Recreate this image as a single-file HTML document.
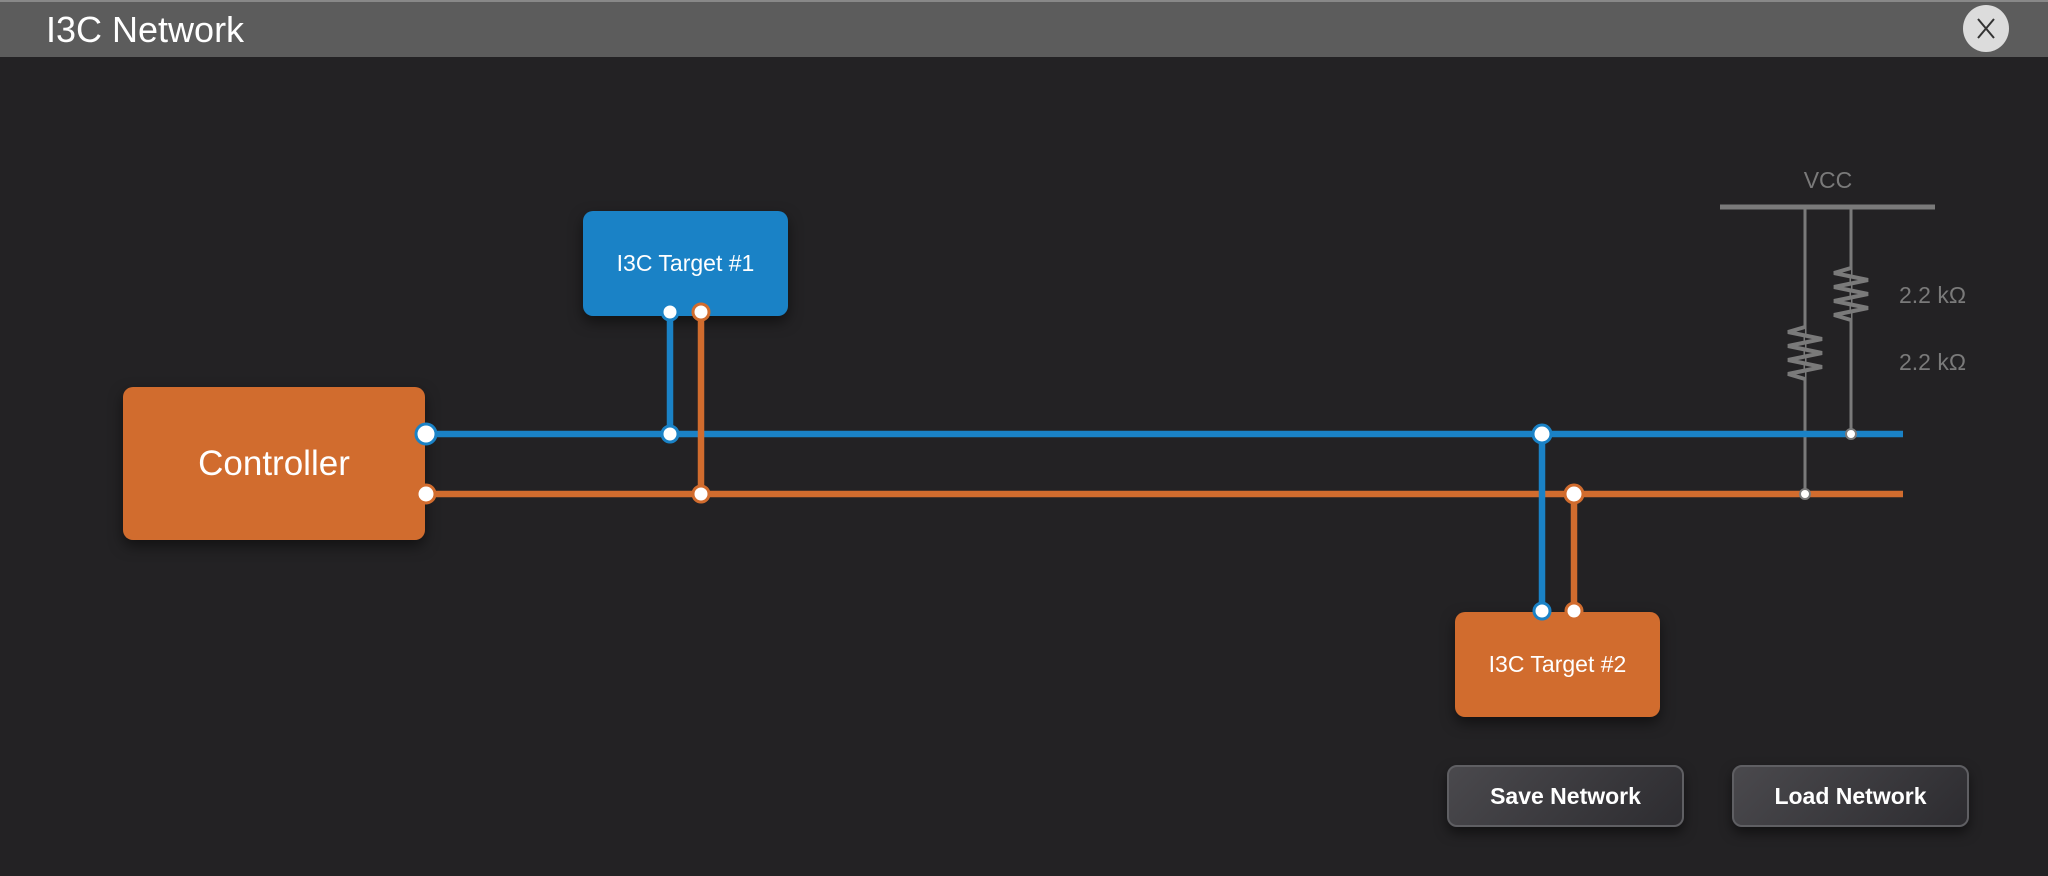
<!DOCTYPE html>
<html><head><meta charset="utf-8"><style>
html,body{margin:0;padding:0;width:2048px;height:876px;overflow:hidden;background:#232224;font-family:"Liberation Sans",sans-serif}
.hdr{position:absolute;left:0;top:0;width:2048px;height:57px;background:#5c5c5c;border-top:2px solid #888;box-sizing:border-box}
.title{position:absolute;left:46px;top:7px;font-size:36px;color:#fff}
.close{position:absolute;left:1963px;top:5px;width:46px;height:47px;border-radius:50%;background:#dcdcdc}
.box{position:absolute;border-radius:10px;color:#fff;display:flex;align-items:center;justify-content:center;box-shadow:0 6px 14px rgba(0,0,0,.5)}
.btn{position:absolute;width:237px;height:62px;border-radius:10px;border:2px solid #5f5f63;box-sizing:border-box;background:linear-gradient(135deg,#4a494d,#2d2c30);color:#fff;font-weight:bold;font-size:23px;display:flex;align-items:center;justify-content:center;box-shadow:0 6px 12px rgba(0,0,0,.5)}
</style></head><body>
<div class="hdr"><div class="title">I3C Network</div></div>
<div class="close"><svg width="46" height="47"><line x1="15" y1="14" x2="31" y2="33" stroke="#333" stroke-width="2"/><line x1="31" y1="14" x2="15" y2="33" stroke="#333" stroke-width="2"/></svg></div>
<div class="box" style="left:123px;top:387px;width:302px;height:153px;background:#d16c2e;font-size:35px">Controller</div>
<div class="box" style="left:583px;top:211px;width:205px;height:105px;background:#1a82c6;font-size:23px">I3C Target #1</div>
<div class="box" style="left:1455px;top:612px;width:205px;height:105px;background:#d16c2e;font-size:23px">I3C Target #2</div>
<svg width="2048" height="876" style="position:absolute;left:0;top:0">
<g stroke="#7a7a7a" fill="none">
<line x1="1720" y1="207" x2="1935" y2="207" stroke-width="5"/>
<line x1="1805" y1="207" x2="1805" y2="494" stroke-width="3"/>
<line x1="1851" y1="207" x2="1851" y2="434" stroke-width="3"/>
</g>
<g stroke="#7a7a7a" stroke-width="4" fill="#232224">
<polyline points="1805,327 1788,332 1822,339 1788,346 1822,353 1788,360 1822,367 1788,374 1805,379"/>
<polyline points="1851,268 1834,273 1868,280 1834,287 1868,294 1834,301 1868,308 1834,315 1851,320"/>
</g>
<g fill="#7a7a7a" font-size="23" font-family="Liberation Sans, sans-serif">
<text x="1828" y="188" text-anchor="middle">VCC</text>
<text x="1899" y="303">2.2 kΩ</text>
<text x="1899" y="370">2.2 kΩ</text>
</g>
<g stroke-width="6.5" fill="none">
<line x1="426" y1="434" x2="1903" y2="434" stroke="#1a82c6"/>
<line x1="426" y1="494" x2="1903" y2="494" stroke="#d16c2e"/>
<line x1="670" y1="312" x2="670" y2="434" stroke="#1a82c6"/>
<line x1="701" y1="312" x2="701" y2="494" stroke="#d16c2e"/>
<line x1="1542" y1="434" x2="1542" y2="611" stroke="#1a82c6"/>
<line x1="1574" y1="494" x2="1574" y2="611" stroke="#d16c2e"/>
</g>
<g fill="#fff" stroke-width="3">
<circle cx="426" cy="434" r="10" stroke="#1a82c6"/>
<circle cx="426" cy="494" r="9" stroke="#d16c2e"/>
<circle cx="670" cy="312" r="8" stroke="#1a82c6"/>
<circle cx="701" cy="312" r="8" stroke="#d16c2e"/>
<circle cx="670" cy="434" r="8" stroke="#1a82c6"/>
<circle cx="701" cy="494" r="8" stroke="#d16c2e"/>
<circle cx="1542" cy="434" r="9" stroke="#1a82c6"/>
<circle cx="1574" cy="494" r="9" stroke="#d16c2e"/>
<circle cx="1542" cy="611" r="8" stroke="#1a82c6"/>
<circle cx="1574" cy="611" r="8" stroke="#d16c2e"/>
<circle cx="1851" cy="434" r="5" stroke="#7a7a7a" stroke-width="2"/>
<circle cx="1805" cy="494" r="5" stroke="#7a7a7a" stroke-width="2"/>
</g>
</svg>
<div class="btn" style="left:1447px;top:765px">Save Network</div>
<div class="btn" style="left:1732px;top:765px">Load Network</div>
</body></html>
